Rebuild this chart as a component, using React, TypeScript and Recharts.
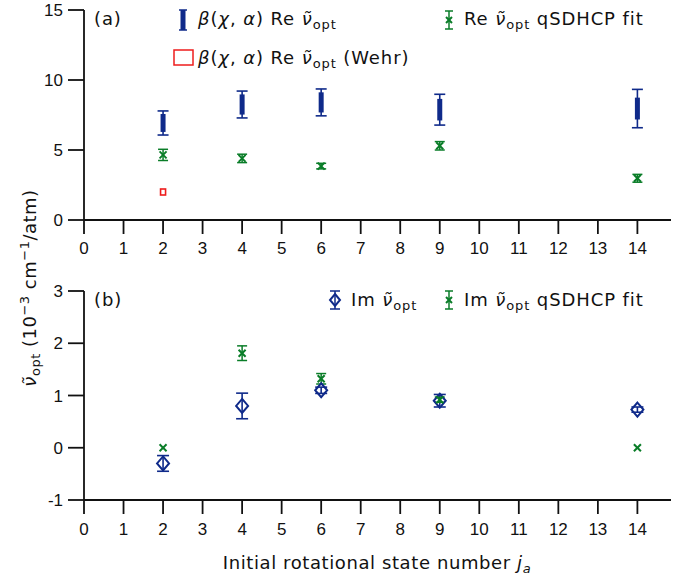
import React from 'react';
import { ScatterChart, Scatter, XAxis, YAxis, ErrorBar, Legend } from 'recharts';

// initial rotational state j_a
const states = [2, 4, 6, 9, 14];
const stateTicks = [0, 1, 2, 3, 4, 5, 6, 7, 8, 9, 10, 11, 12, 13, 14];

// panel (a): real part
const reBeta = [6.93, 8.25, 8.4, 7.88, 7.96];
const reBetaErr = [0.86, 0.96, 0.96, 1.1, 1.37];
const reBetaSpread = [0.64, 0.72, 0.72, 0.77, 0.78];
const reFit = [4.65, 4.4, 3.85, 5.3, 2.98];
const reFitErr = [0.4, 0.3, 0.2, 0.3, 0.28];
const wehrStates = [2];
const wehrRe = [2.0];
const reTicks = [0, 5, 10, 15];

// panel (b): imaginary part
const im = [-0.3, 0.8, 1.1, 0.9, 0.73];
const imErr = [0.15, 0.245, 0.06, 0.12, 0.05];
const imFit = [0.0, 1.81, 1.32, 0.92, 0.0];
const imFitErr = [0, 0.14, 0.1, 0.05, 0];
const imTicks = [-1, 0, 1, 2, 3];

const BLUE = '#0f2a8a';
const GREEN = '#0a7d28';
const RED = '#ee1c1c';
const FONT = '"Liberation Sans", Arial, sans-serif';
const TEXT_FONT = '"DejaVu Sans", sans-serif';

const reBetaData = states.map((x, i) => ({ x, y: reBeta[i], err: reBetaErr[i], spread: reBetaSpread[i] }));
const reFitData = states.map((x, i) => ({ x, y: reFit[i], err: reFitErr[i] }));
const wehrData = wehrStates.map((x, i) => ({ x, y: wehrRe[i] }));
const imData = states.map((x, i) => ({ x, y: im[i], err: imErr[i] }));
const imFitData = states.map((x, i) => ({ x, y: imFit[i], err: imFitErr[i] }));

const Empty = () => <g />;

const Cross = (props: any) => {
  const { cx, cy } = props;
  if (cx == null || cy == null) return <g />;
  const s = 3.5;
  return (
    <g stroke={GREEN} strokeWidth={2}>
      <line x1={cx - s} y1={cy - s} x2={cx + s} y2={cy + s} />
      <line x1={cx - s} y1={cy + s} x2={cx + s} y2={cy - s} />
    </g>
  );
};

const Diamond = (props: any) => {
  const { cx, cy } = props;
  if (cx == null || cy == null) return <g />;
  return (
    <path
      d={`M${cx},${cy - 7} L${cx + 6},${cy} L${cx},${cy + 7} L${cx - 6},${cy} Z`}
      fill="none"
      stroke={BLUE}
      strokeWidth={2}
    />
  );
};

const SmallSquare = (props: any) => {
  const { cx, cy } = props;
  if (cx == null || cy == null) return <g />;
  return <rect x={cx - 2.5} y={cy - 3} width={5} height={6} fill="none" stroke={RED} strokeWidth={1.6} />;
};

const Nu = () => (
  <>
    <i>ν̃</i>
    <sub style={{ fontSize: 13, verticalAlign: 'baseline', position: 'relative', top: 4 }}>opt</sub>
  </>
);

const Beta = () => (
  <>
    <i>β</i>(<i>χ</i>, <i>α</i>)
  </>
);

const legendText: React.CSSProperties = {
  position: 'absolute',
  fontFamily: TEXT_FONT,
  fontSize: 18,
  letterSpacing: 0.9,
  whiteSpace: 'nowrap',
  lineHeight: '20px',
  color: '#111',
};

const GreenIcon = () => (
  <svg style={{ position: 'absolute', left: 442, top: 8 }} width={14} height={24}>
    <line x1={7} y1={3} x2={7} y2={21} stroke={GREEN} strokeWidth={1.5} />
    <line x1={3} y1={3} x2={11} y2={3} stroke={GREEN} strokeWidth={1.5} />
    <line x1={3} y1={21} x2={11} y2={21} stroke={GREEN} strokeWidth={1.5} />
    <line x1={4} y1={9} x2={10} y2={15} stroke={GREEN} strokeWidth={2} />
    <line x1={4} y1={15} x2={10} y2={9} stroke={GREEN} strokeWidth={2} />
  </svg>
);

const TopLegend = () => (
  <div style={{ position: 'absolute', left: 0, top: 0, width: 693, height: 260, pointerEvents: 'none' }}>
    <div style={{ ...legendText, left: 94, top: 9 }}>(a)</div>
    <svg style={{ position: 'absolute', left: 176, top: 8 }} width={14} height={24}>
      <line x1={7} y1={2} x2={7} y2={22} stroke={BLUE} strokeWidth={5} />
      <line x1={3} y1={2} x2={11} y2={2} stroke={BLUE} strokeWidth={1.5} />
      <line x1={3} y1={22} x2={11} y2={22} stroke={BLUE} strokeWidth={1.5} />
    </svg>
    <div style={{ ...legendText, left: 198, top: 9 }}>
      <Beta /> Re <Nu />
    </div>
    <GreenIcon />
    <div style={{ ...legendText, left: 464, top: 9 }}>
      Re <Nu /> qSDHCP fit
    </div>
    <svg style={{ position: 'absolute', left: 172, top: 48 }} width={24} height={20}>
      <rect x={2} y={2} width={19} height={15} fill="none" stroke={RED} strokeWidth={1.5} />
    </svg>
    <div style={{ ...legendText, left: 198, top: 48 }}>
      <Beta /> Re <Nu /> (Wehr)
    </div>
  </div>
);

const BottomLegend = () => (
  <div style={{ position: 'absolute', left: 0, top: 0, width: 693, height: 250, pointerEvents: 'none' }}>
    <div style={{ ...legendText, left: 94, top: 10 }}>(b)</div>
    <svg style={{ position: 'absolute', left: 327, top: 8 }} width={16} height={24}>
      <line x1={8} y1={3} x2={8} y2={21} stroke={BLUE} strokeWidth={1.5} />
      <line x1={3} y1={3} x2={13} y2={3} stroke={BLUE} strokeWidth={1.5} />
      <line x1={3} y1={21} x2={13} y2={21} stroke={BLUE} strokeWidth={1.5} />
      <path d="M8,6 L13,12 L8,18 L3,12 Z" fill="none" stroke={BLUE} strokeWidth={2} />
    </svg>
    <div style={{ ...legendText, left: 351, top: 10 }}>
      Im <Nu />
    </div>
    <GreenIcon />
    <div style={{ ...legendText, left: 464, top: 10 }}>
      Im <Nu /> qSDHCP fit
    </div>
  </div>
);

const tickStyle = { fill: '#111', fontSize: 17, fontFamily: FONT };
const axisLine = { stroke: '#111', strokeWidth: 1.8 };

export default function App() {
  return (
    <div style={{ position: 'absolute', left: 0, top: 0, width: 693, height: 578, background: '#fff' }}>
      <div style={{ position: 'absolute', left: 0, top: 0 }}>
        <ScatterChart width={693} height={266} margin={{ top: 10, right: 22, bottom: 6, left: 24 }}>
          <XAxis
            type="number"
            dataKey="x"
            domain={[0, 14.85]}
            ticks={stateTicks}
            allowDataOverflow
            height={40}
            tickSize={14}
            tickMargin={8}
            axisLine={axisLine}
            tickLine={axisLine}
            tick={tickStyle}
          />
          <YAxis
            type="number"
            dataKey="y"
            domain={[0, 15]}
            ticks={reTicks}
            width={60}
            tickSize={16}
            tickMargin={5}
            axisLine={axisLine}
            tickLine={axisLine}
            tick={tickStyle}
          />
          <Scatter data={reBetaData} shape={Empty} isAnimationActive={false}>
            <ErrorBar dataKey="err" direction="y" width={5.5} stroke={BLUE} strokeWidth={1.6} />
            <ErrorBar dataKey="spread" direction="y" width={0} stroke={BLUE} strokeWidth={5} />
          </Scatter>
          <Scatter data={reFitData} shape={Cross} isAnimationActive={false}>
            <ErrorBar dataKey="err" direction="y" width={5} stroke={GREEN} strokeWidth={1.5} />
          </Scatter>
          <Scatter data={wehrData} shape={SmallSquare} isAnimationActive={false} />
          <Legend content={() => <TopLegend />} wrapperStyle={{ position: 'absolute', left: 0, top: 0 }} />
        </ScatterChart>
      </div>
      <div style={{ position: 'absolute', left: 0, top: 280 }}>
        <ScatterChart width={693} height={298} margin={{ top: 11, right: 22, bottom: 38, left: 24 }}>
          <XAxis
            type="number"
            dataKey="x"
            domain={[0, 14.85]}
            ticks={stateTicks}
            allowDataOverflow
            height={40}
            tickSize={14}
            tickMargin={9}
            axisLine={axisLine}
            tickLine={axisLine}
            tick={tickStyle}
          />
          <YAxis
            type="number"
            dataKey="y"
            domain={[-1, 3]}
            ticks={imTicks}
            width={60}
            tickSize={16}
            tickMargin={5}
            axisLine={axisLine}
            tickLine={axisLine}
            tick={tickStyle}
          />
          <Scatter data={imData} shape={Diamond} isAnimationActive={false}>
            <ErrorBar dataKey="err" direction="y" width={6} stroke={BLUE} strokeWidth={1.6} />
          </Scatter>
          <Scatter data={imFitData} shape={Cross} isAnimationActive={false}>
            <ErrorBar dataKey="err" direction="y" width={5} stroke={GREEN} strokeWidth={1.5} />
          </Scatter>
          <Legend content={() => <BottomLegend />} wrapperStyle={{ position: 'absolute', left: 0, top: 0 }} />
        </ScatterChart>
      </div>
      <svg style={{ position: 'absolute', left: 0, top: 0, pointerEvents: 'none' }} width={693} height={578}>
        <text
          transform="translate(36,288) rotate(-90)"
          textAnchor="middle"
          fontFamily={TEXT_FONT}
          fontSize={18}
          letterSpacing={0.5}
          fill="#111"
        >
          <tspan fontStyle="italic">ν̃</tspan>
          <tspan fontSize={13} dy={4}>opt</tspan>
          <tspan dy={-4}>  (10</tspan>
          <tspan fontSize={13} dy={-7}>−3</tspan>
          <tspan dy={7}> cm</tspan>
          <tspan fontSize={13} dy={-7}>−1</tspan>
          <tspan dy={7}>/atm)</tspan>
        </text>
        <text
          x={377}
          y={569}
          textAnchor="middle"
          fontFamily={TEXT_FONT}
          fontSize={18}
          letterSpacing={0.6}
          fill="#111"
        >
          Initial rotational state number <tspan fontStyle="italic">j</tspan>
          <tspan fontStyle="italic" fontSize={13} dy={4}>a</tspan>
        </text>
      </svg>
    </div>
  );
}
